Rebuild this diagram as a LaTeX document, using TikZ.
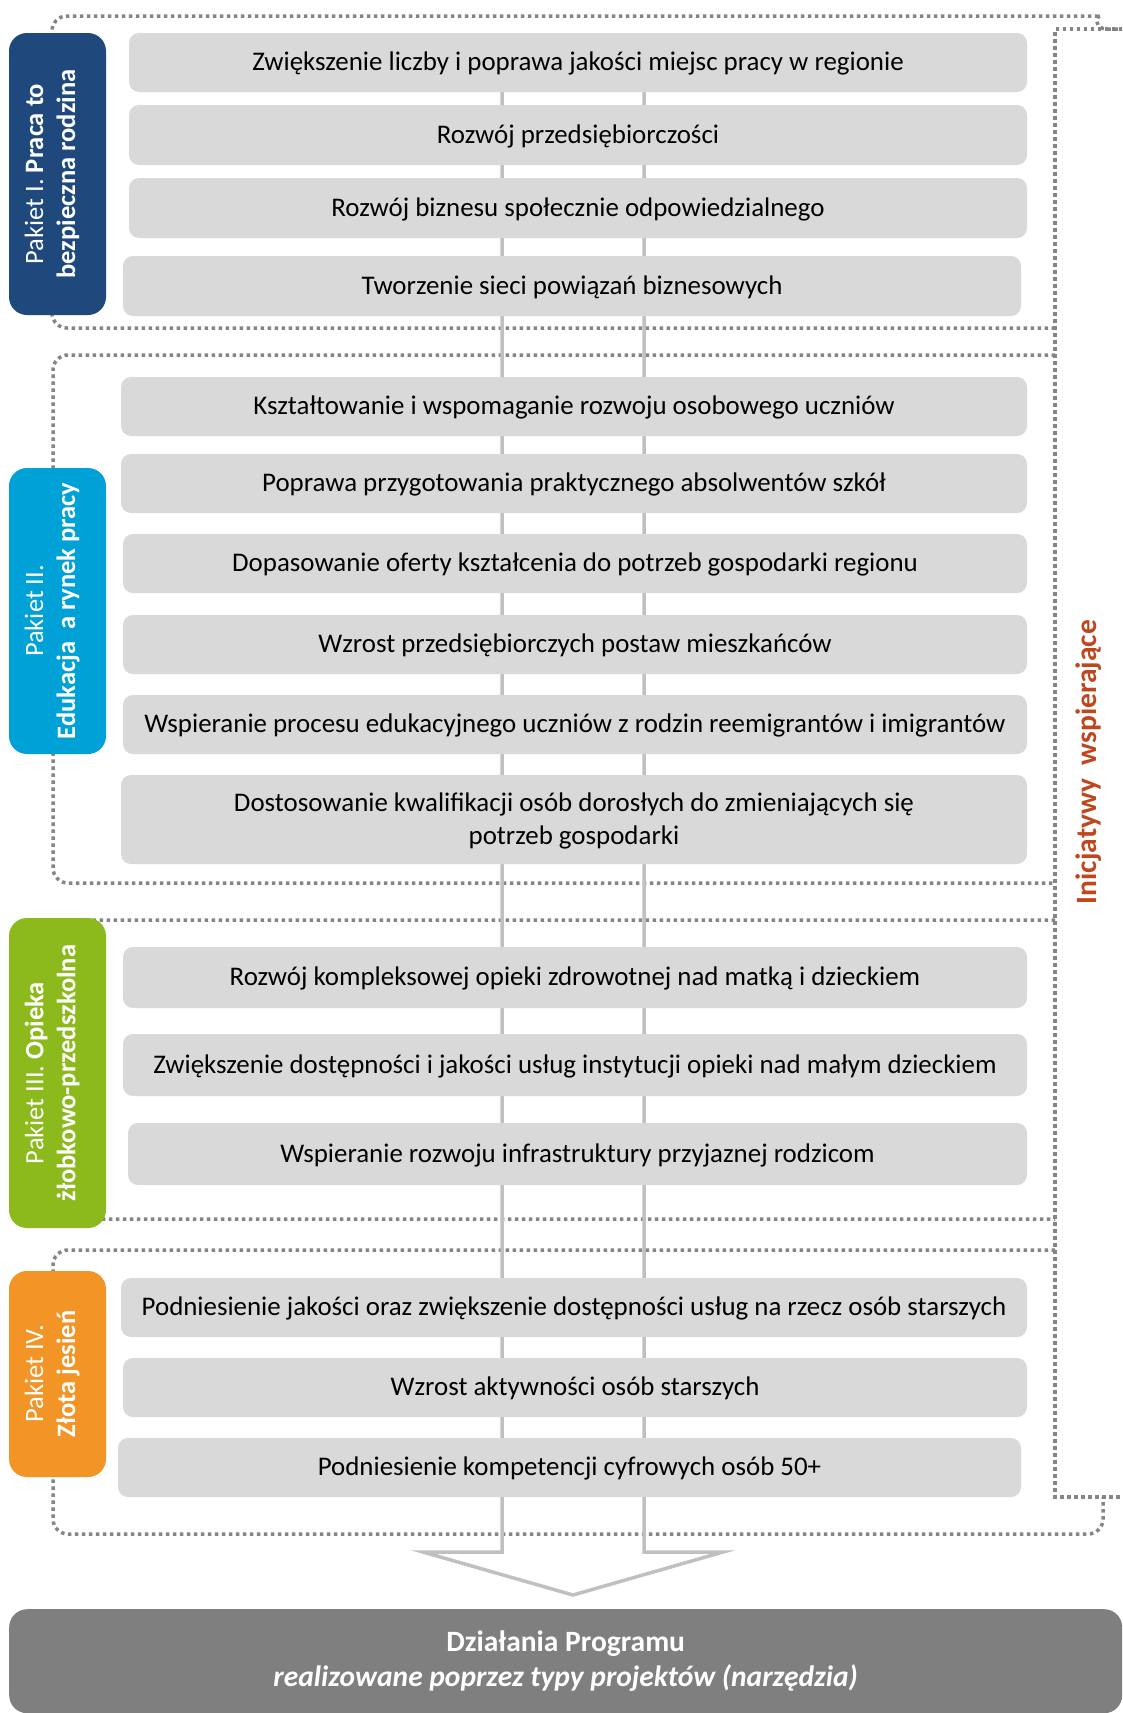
\documentclass[tikz,border=0pt]{standalone}
\usepackage{fontspec}
\setmainfont{Carlito}
\definecolor{boxgray}{HTML}{D9D9D9}
\definecolor{dotgray}{HTML}{858585}
\definecolor{arrowgray}{HTML}{C0C0C0}
\definecolor{pblue}{HTML}{1F497D}
\definecolor{pcyan}{HTML}{00A1D7}
\definecolor{pgreen}{HTML}{8CBA1C}
\definecolor{porange}{HTML}{F39427}
\definecolor{initred}{HTML}{C0461E}
\definecolor{bottomgray}{HTML}{7F7F7F}
\begin{document}
\begin{tikzpicture}[x=1pt,y=-1pt,
  gbox/.style={fill=boxgray, rounded corners=10pt, inner sep=0pt, align=center, text height=22pt, text depth=5.6pt, font=\fontsize{26.9}{33}\selectfont},
  pbox/.style={rotate=90, rounded corners=18pt, inner sep=0pt, align=center, text=white, text depth=15pt, font=\fontsize{26.5}{32}\selectfont},
  dotframe/.style={draw=dotgray, line width=3.5pt, dash pattern=on 3.5pt off 3.5pt},
  arrowline/.style={draw=arrowgray, line width=3.5pt, line join=miter}
]
\useasboundingbox (0,0) rectangle (1122,1713);
\clip (0,0) rectangle (1122,1713);

% dotted package frames
\draw[dotframe, rounded corners=15pt] (1055,328) -- (52,328) -- (52,16) -- (1086,16)
  [sharp corners] .. controls (1094,16) and (1096,29) .. (1106,29) -- (1122,29);
\draw[dotframe, rounded corners=15pt] (1055,355) -- (53,355) -- (53,883) -- (1055,883);
\draw[dotframe, rounded corners=15pt] (1055,920) -- (53,920) -- (53,1219) -- (1055,1219);
\draw[dotframe, rounded corners=15pt] (1055,1250) -- (53,1250) -- (53,1534) -- (1103,1534) -- (1103,1497);
% bracket "Inicjatywy wspierajace"
\draw[dotframe] (1122,29) -- (1055,29) -- (1055,1497) -- (1122,1497);

% big arrow
\coordinate (aLt) at (502,62);
\coordinate (aLb) at (502,1552);
\coordinate (aLw) at (423,1552);
\coordinate (aTip) at (573,1595);
\coordinate (aRw) at (723,1552);
\coordinate (aRb) at (644,1552);
\coordinate (aRt) at (644,62);
\draw[arrowline] (aLt) -- (aLb) -- (aLw) -- (aTip) -- (aRw) -- (aRb) -- (aRt);

% Pakiet I
\node[gbox, minimum width=898pt, minimum height=59pt] (b1) at (578,62.5) {Zwiększenie liczby i poprawa jakości miejsc pracy w regionie};
\node[gbox, minimum width=898pt, minimum height=60pt] (b2) at (578,135) {Rozwój przedsiębiorczości};
\node[gbox, minimum width=898pt, minimum height=60pt] (b3) at (578,208) {Rozwój biznesu społecznie odpowiedzialnego};
\node[gbox, minimum width=898pt, minimum height=60pt] (b4) at (572,286) {Tworzenie sieci powiązań biznesowych};
% Pakiet II
\node[gbox, minimum width=906pt, minimum height=59pt] (b5) at (574,406.5) {Kształtowanie i wspomaganie rozwoju osobowego uczniów};
\node[gbox, minimum width=906pt, minimum height=59pt] (b6) at (574,483.5) {Poprawa przygotowania praktycznego absolwentów szkół};
\node[gbox, minimum width=904pt, minimum height=59pt] (b7) at (575,563.5) {Dopasowanie oferty kształcenia do potrzeb gospodarki regionu};
\node[gbox, minimum width=904pt, minimum height=59pt] (b8) at (575,644.5) {Wzrost przedsiębiorczych postaw mieszkańców};
\node[gbox, minimum width=904pt, minimum height=59pt] (b9) at (575,724.5) {Wspieranie procesu edukacyjnego uczniów z rodzin reemigrantów i imigrantów};
\node[gbox, text height=55pt, minimum width=906pt, minimum height=89pt] (b10) at (574,819.5) {Dostosowanie kwalifikacji osób dorosłych do zmieniających się\\potrzeb gospodarki};
% Pakiet III
\node[gbox, minimum width=904pt, minimum height=61pt] (b11) at (575,977.5) {Rozwój kompleksowej opieki zdrowotnej nad matką i dzieckiem};
\node[gbox, minimum width=904pt, minimum height=62pt] (b12) at (575,1065) {Zwiększenie dostępności i jakości usług instytucji opieki nad małym dzieckiem};
\node[gbox, minimum width=899pt, minimum height=62pt] (b13) at (577.5,1154) {Wspieranie rozwoju infrastruktury przyjaznej rodzicom};
% Pakiet IV
\node[gbox, minimum width=906pt, minimum height=59pt] (b14) at (574,1307.5) {Podniesienie jakości oraz zwiększenie dostępności usług na rzecz osób starszych};
\node[gbox, minimum width=904pt, minimum height=59pt] (b15) at (575,1387.5) {Wzrost aktywności osób starszych};
\node[gbox, minimum width=903pt, minimum height=59pt] (b16) at (569.5,1467.5) {Podniesienie kompetencji cyfrowych osób 50+};

% package labels
\node[pbox, fill=pblue, minimum width=282pt, minimum height=97pt] (p1) at (57.5,174) {Pakiet I. \textbf{Praca to}\\\textbf{bezpieczna rodzina}};
\node[pbox, fill=pcyan, minimum width=286pt, minimum height=97pt] (p2) at (57.5,611) {Pakiet II.\\\textbf{Edukacja\ \ a rynek pracy}};
\node[pbox, fill=pgreen, minimum width=310pt, minimum height=97pt] (p3) at (57.5,1073) {Pakiet III. \textbf{Opieka}\\\textbf{żłobkowo-przedszkolna}};
\node[pbox, fill=porange, minimum width=206pt, minimum height=97pt] (p4) at (57.5,1374) {Pakiet IV.\\\textbf{Złota jesień}};

% side label
\node[rotate=90, text=initred, inner sep=0pt, font=\fontsize{29.5}{32}\selectfont\bfseries] (ini) at (1089,762) {Inicjatywy\ \ wspierające};

% bottom box
\node[fill=bottomgray, rounded corners=18pt, anchor=north west, minimum width=1113pt, minimum height=104pt, inner sep=0pt, align=center, text=white, font=\fontsize{29.5}{35}\selectfont\bfseries] (dz) at (9,1609) {Działania Programu\\\itshape realizowane poprzez typy projektów (narzędzia)};
\end{tikzpicture}
\end{document}
